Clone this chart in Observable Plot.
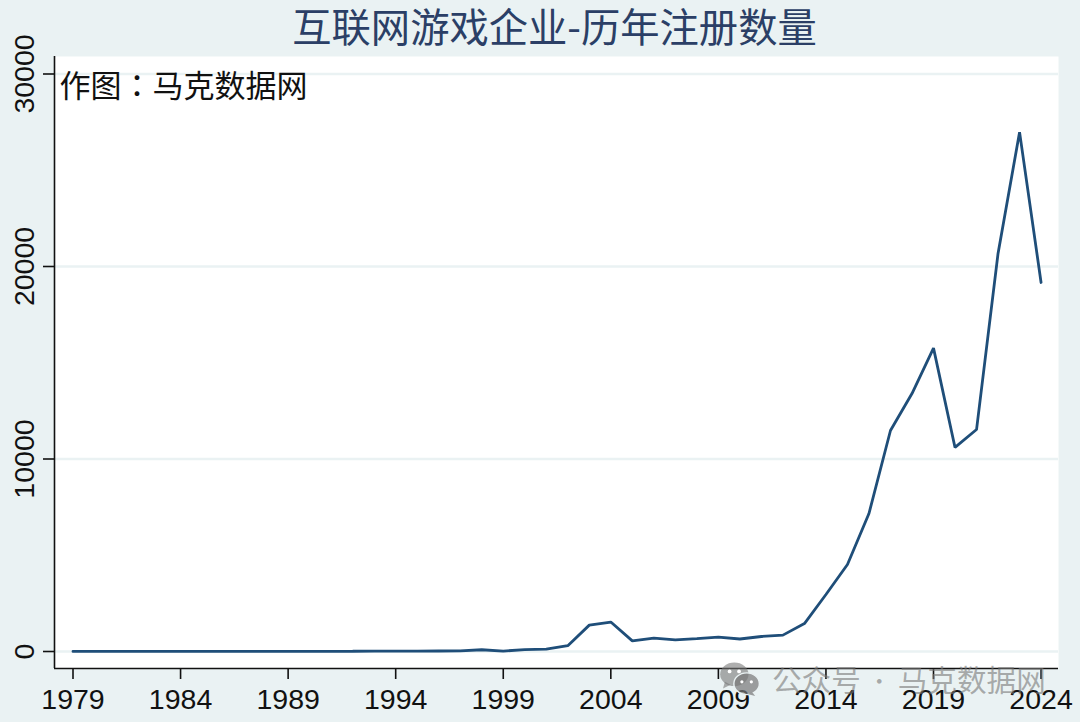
<!DOCTYPE html>
<html><head><meta charset="utf-8">
<script src="https://cdn.jsdelivr.net/npm/d3@7"></script>
<script src="https://cdn.jsdelivr.net/npm/@observablehq/plot@0.6"></script>
<style>
html,body{margin:0;padding:0;background:#eaf2f3;width:1080px;height:722px;overflow:hidden}
#wrap{position:relative;width:1080px;height:722px}
#wm{position:absolute;left:720px;top:659px;display:flex;align-items:center;color:rgba(120,120,120,.6);font:29.6px/40px "Noto Sans CJK SC";white-space:nowrap}
#wm svg{margin-right:12px}
#wm i{font-style:normal;display:inline-block;width:37px;text-align:center;font-size:22px}
</style></head><body><div id="wrap"></div>
<script>
const years = d3.range(1979, 2025);
const counts = [3,3,3,3,4,4,4,5,5,6,6,8,10,12,18,15,20,25,30,90,20,100,120,300,1370,1530,550,700,600,670,750,650,780,850,1450,2960,4520,7170,11480,13400,15760,10600,11530,20680,26980,19170];
const xTicks = [1979,1984,1989,1994,1999,2004,2009,2014,2019,2024];
const yTicks = [0,10000,20000,30000];
const titleText = "互联网游戏企业-历年注册数量";
const noteText = "作图：马克数据网";
const rows = years.map((year,i)=>({year,count:counts[i]}));
const cjk = '"Noto Sans CJK SC"';
const latin = '"Liberation Sans"';
const chart = Plot.plot({
  width:1080,height:722,marginLeft:54,marginRight:22,marginTop:56,marginBottom:54,
  style:{background:"#eaf2f3",overflow:"visible"},
  x:{domain:[1978.14,2024.81],label:null},
  y:{domain:[-883,30909],label:null},
  marks:[
    Plot.frame({fill:"white",stroke:"none"}),
    Plot.gridY(yTicks,{stroke:"#eaf2f3",strokeOpacity:1,strokeWidth:2.5}),
    Plot.ruleX([1978.14],{stroke:"#111",strokeWidth:1.6}),
    Plot.ruleY([-883],{stroke:"#111",strokeWidth:1.6}),
    Plot.axisX({ticks:xTicks,tickFormat:d=>String(d),tickSize:11,tickPadding:9,fontSize:28.5,fontFamily:latin,color:"#111",label:null,stroke:"#111",strokeWidth:1.6}),
    Plot.axisY({ticks:yTicks,tickFormat:d=>String(d),tickSize:11,tickPadding:10,tickRotate:-90,fontSize:28.5,fontFamily:latin,color:"#111",label:null,stroke:"#111",strokeWidth:1.6,textAnchor:"middle",lineAnchor:"bottom"}),
    Plot.line(rows,{x:"year",y:"count",stroke:"#1f4e79",strokeWidth:2.8,strokeLinejoin:"miter"}),
    Plot.text([titleText],{frameAnchor:"top",dy:-42,dx:-2,text:d=>d,fontSize:39.3,fontFamily:cjk,fill:"#2b3f66",lineAnchor:"top",fontWeight:400}),
    Plot.text([noteText],{frameAnchor:"top-left",dx:5,dy:18,text:d=>d,fontSize:31,fontFamily:'"Noto Sans CJK TC"',fill:"#111",lineAnchor:"top",textAnchor:"start"})
  ]
});
const w=document.getElementById("wrap");
w.appendChild(chart);
const wm=document.createElement("div");wm.id="wm";
wm.innerHTML='<svg width="40" height="34" viewBox="0 0 42 36"><ellipse cx="15" cy="13" rx="15" ry="12.5" fill="rgba(120,120,120,.6)"/><path d="M5 21l-2 7 8-4z" fill="rgba(120,120,120,.6)"/><ellipse cx="28" cy="23" rx="13.5" ry="11.5" fill="rgba(120,120,120,.7)" stroke="#eaf2f3" stroke-width="1.5"/><path d="M34 32l3 4-8-2z" fill="rgba(120,120,120,.7)"/><circle cx="10" cy="10" r="2" fill="#fff"/><circle cx="20" cy="10" r="2" fill="#fff"/><circle cx="23" cy="21" r="1.7" fill="#fff"/><circle cx="33" cy="21" r="1.7" fill="#fff"/></svg><span>公众号</span><i>·</i><span>马克数据网</span>';
w.appendChild(wm);
</script></body></html>
